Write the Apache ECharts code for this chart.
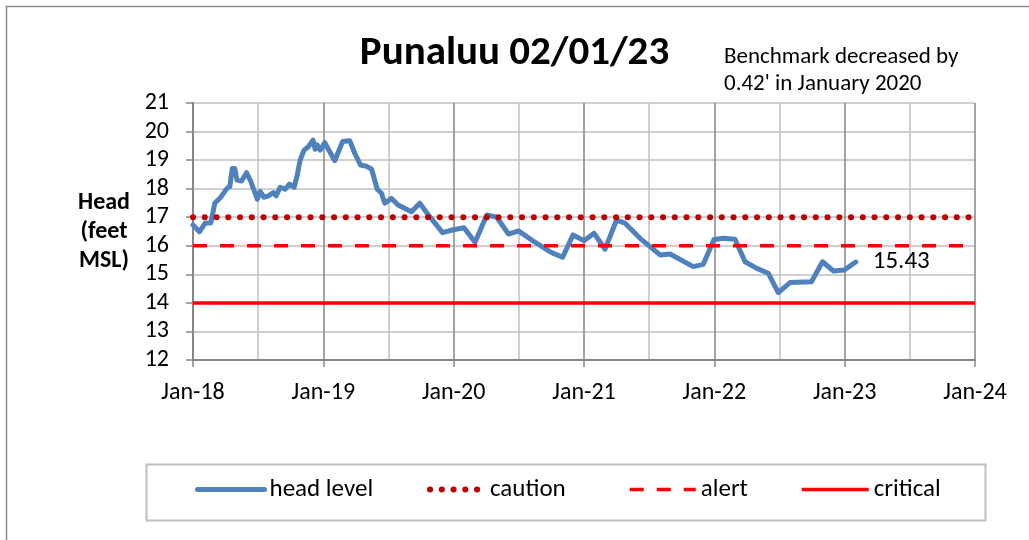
<!DOCTYPE html>
<html>
<head>
<meta charset="utf-8">
<script src="https://cdn.jsdelivr.net/npm/echarts@6/dist/echarts.min.js"></script>
<style>
html,body{margin:0;padding:0;background:#fff;}
#c{width:1029px;height:540px;}
</style>
</head>
<body>
<div id="c"></div>
<script>
// ---- data ----
const dates = [
 '2018-01-01','2018-01-19','2018-02-04','2018-02-20','2018-03-03','2018-03-21','2018-04-06','2018-04-14',
 '2018-04-21','2018-04-28','2018-05-04','2018-05-17','2018-05-31','2018-06-12','2018-06-30','2018-07-08',
 '2018-07-19','2018-07-31','2018-08-14','2018-08-22','2018-09-02','2018-09-16','2018-09-28','2018-10-11',
 '2018-10-19','2018-10-28','2018-11-08','2018-11-20','2018-12-03','2018-12-09','2018-12-15','2018-12-23',
 '2019-01-05','2019-02-02','2019-02-24','2019-03-16','2019-03-30','2019-04-15','2019-04-30','2019-05-16',
 '2019-06-01','2019-06-13','2019-06-22','2019-07-11','2019-07-29','2019-09-05','2019-09-28','2019-10-26',
 '2019-12-01','2019-12-31','2020-01-30','2020-03-01','2020-04-03','2020-05-01','2020-06-03','2020-07-01',
 '2020-08-07','2020-10-02','2020-11-02','2020-12-01','2021-01-01','2021-01-29','2021-03-01','2021-04-02',
 '2021-04-26','2021-06-07','2021-08-02','2021-08-30','2021-11-03','2021-12-01','2021-12-31','2022-01-26',
 '2022-02-28','2022-03-28','2022-04-30','2022-06-01','2022-06-29','2022-08-01','2022-09-30','2022-10-31',
 '2022-11-30','2022-12-31','2023-02-01'
];
const headLevel = [
 16.73,16.49,16.79,16.81,17.49,17.72,18.01,18.07,
 18.71,18.71,18.30,18.27,18.56,18.25,17.63,17.90,
 17.70,17.75,17.86,17.75,18.05,17.98,18.16,18.05,
 18.42,19.00,19.35,19.47,19.70,19.38,19.53,19.35,
 19.61,18.98,19.65,19.68,19.24,18.83,18.79,18.69,
 17.98,17.84,17.49,17.66,17.43,17.19,17.49,17.02,
 16.46,16.56,16.63,16.12,17.08,17.00,16.41,16.52,
 16.20,15.76,15.60,16.38,16.18,16.44,15.88,16.90,
 16.79,16.26,15.68,15.71,15.27,15.35,16.22,16.26,
 16.23,15.44,15.21,15.04,14.36,14.71,14.74,15.44,
 15.12,15.15,15.43
];
const cautionLevel = 17;
const alertLevel = 16;
const criticalLevel = 14;
const axisYears = [2018, 2024];
const yRange = [12, 21];
const titleText = 'Punaluu 02/01/23';
const noteText = "Benchmark decreased by\n0.42' in January 2020";
const seriesNames = ['head level', 'caution', 'alert', 'critical'];

// ---- helpers ----
function toYear(s) {
  const d = Date.parse(s + 'T00:00:00Z');
  const y = new Date(d).getUTCFullYear();
  const a = Date.UTC(y, 0, 1), b = Date.UTC(y + 1, 0, 1);
  return y + (d - a) / (b - a);
}
const FONT = 'Carlito, Calibri, Lato, sans-serif';
const headData = dates.map((d, i) => [toYear(d), headLevel[i]]);
const flat = v => [[axisYears[0], v], [axisYears[1], v]];

const styles = {
  head: { color: '#4F81BD', width: 5, cap: 'round', join: 'round' },
  caution: { color: '#C00000', width: 6, type: [0.1, 11.65], cap: 'round' },
  alert: { color: '#FF0000', width: 3.5, type: [14, 13], cap: 'butt' },
  critical: { color: '#FF0000', width: 3.5, type: 'solid', cap: 'butt' }
};

function legendFor(name, left, width, ls) {
  return {
    data: [name], left: left, top: 477, itemWidth: width,
    itemHeight: 14, padding: 0, icon: 'inherit',
    itemStyle: { opacity: 0 },
    lineStyle: Object.assign({}, ls),
    textStyle: { fontFamily: FONT, fontSize: 25, color: '#000' }
  };
}

const chart = echarts.init(document.getElementById('c'));
chart.setOption({
  animation: false,
  textStyle: { fontFamily: FONT },
  graphic: [{
    type: 'rect', left: 4, top: 4, silent: true,
    shape: { width: 1040, height: 560 },
    style: { fill: 'none', stroke: '#8c8c8c', lineWidth: 1.5 }
  }, {
    type: 'rect', left: 144, top: 462, silent: true,
    shape: { width: 839, height: 56 },
    style: { fill: 'none', stroke: '#bfbfbf', lineWidth: 2 }
  }],
  title: [{
    text: titleText, left: 'center', top: 28,
    textStyle: { fontFamily: FONT, fontSize: 41, fontWeight: 'bold', color: '#000' }
  }, {
    text: noteText, left: 719, top: 39,
    textStyle: { fontFamily: FONT, fontSize: 23, fontWeight: 'normal', color: '#000', lineHeight: 27 }
  }],
  legend: [
    legendFor(seriesNames[0], 195, 67, styles.head),
    legendFor(seriesNames[1], 427, 55, styles.caution),
    legendFor(seriesNames[2], 628, 66, styles.alert),
    legendFor(seriesNames[3], 800, 67, styles.critical)
  ],
  grid: { left: 193, top: 103, right: 54, bottom: 180, containLabel: false },
  xAxis: {
    type: 'value', min: axisYears[0], max: axisYears[1], interval: 1,
    axisLine: { show: true, onZero: false, lineStyle: { color: '#868686', width: 2 } },
    axisTick: { show: true, length: 7, lineStyle: { color: '#868686', width: 1.5 } },
    minorTick: { show: false, splitNumber: 2 },
    axisLabel: {
      margin: 21, color: '#000', fontFamily: FONT, fontSize: 24,
      formatter: v => 'Jan-' + String(Math.round(v)).slice(2)
    },
    splitLine: { show: true, lineStyle: { color: '#868686', width: 1.5 } },
    minorSplitLine: { show: true, lineStyle: { color: '#c0c0c0', width: 1.5 } }
  },
  yAxis: {
    type: 'value', min: yRange[0], max: yRange[1], interval: 1,
    name: 'Head\n(feet\nMSL)', nameLocation: 'middle', nameRotate: 0, nameGap: 89,
    nameTextStyle: { fontFamily: FONT, fontSize: 24, fontWeight: 'bold', color: '#000', lineHeight: 29, align: 'center', verticalAlign: 'middle' },
    axisLine: { show: true, lineStyle: { color: '#868686', width: 2 } },
    axisTick: { show: true, length: 7, lineStyle: { color: '#868686', width: 1.5 } },
    axisLabel: { margin: 24, color: '#000', fontFamily: FONT, fontSize: 24 },
    splitLine: { show: true, lineStyle: { color: '#c0c0c0', width: 1.5 } }
  },
  series: [{
    name: seriesNames[0], type: 'line', data: headData, symbol: 'none', smooth: false,
    lineStyle: styles.head,
    itemStyle: { color: styles.head.color },
    endLabel: { show: true, distance: 17, color: '#000', fontFamily: FONT, fontSize: 25, formatter: p => p.value[1].toFixed(2) },
    z: 2
  }, {
    name: seriesNames[1], type: 'line', data: flat(cautionLevel), symbol: 'none',
    lineStyle: styles.caution, itemStyle: { color: styles.caution.color }, z: 3
  }, {
    name: seriesNames[2], type: 'line', data: flat(alertLevel), symbol: 'none',
    lineStyle: styles.alert, itemStyle: { color: styles.alert.color }, z: 3
  }, {
    name: seriesNames[3], type: 'line', data: flat(criticalLevel), symbol: 'none',
    lineStyle: styles.critical, itemStyle: { color: styles.critical.color }, z: 3
  }]
});
</script>
</body>
</html>
